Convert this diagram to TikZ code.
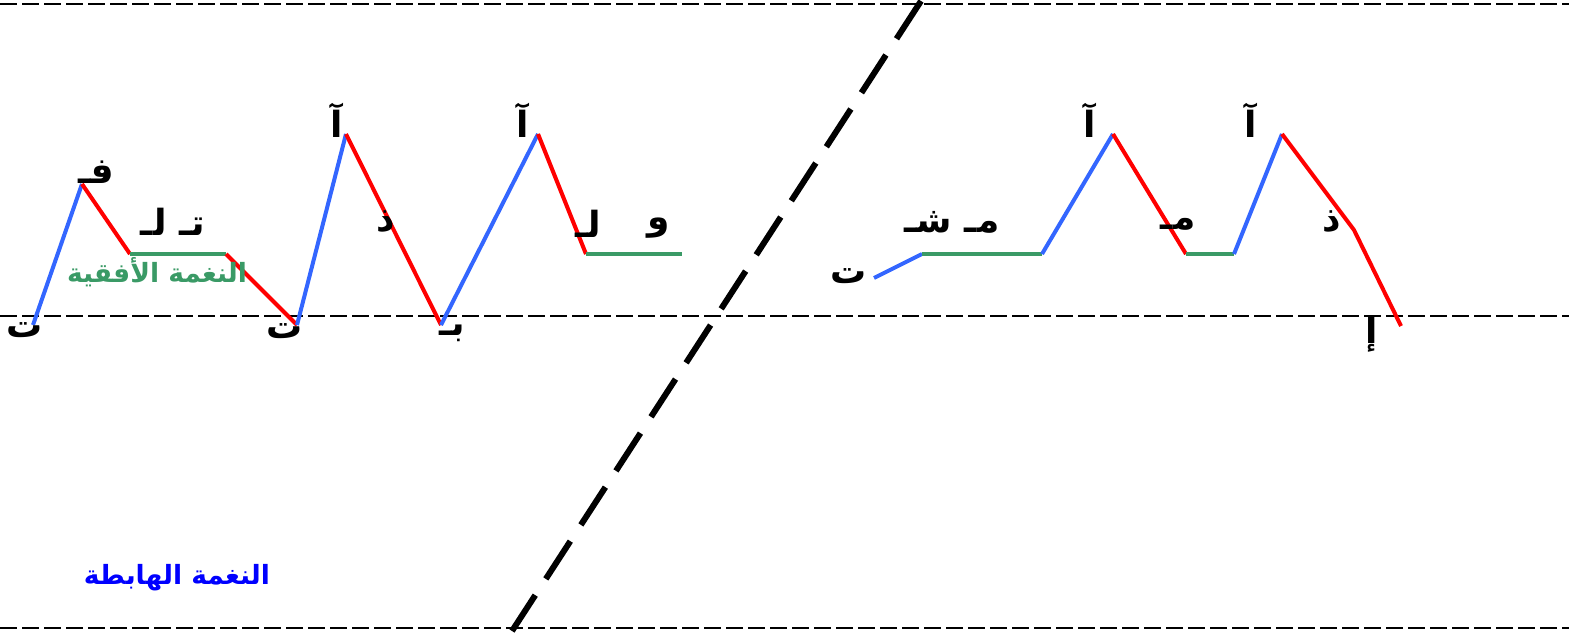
\documentclass[tikz,border=0pt]{standalone}
\usepackage{fontspec}
\TeXXeTstate=1
\newfontfamily\arabicfont[Script=Arabic]{DejaVu Sans}
\definecolor{tblue}{HTML}{3366FF}
\definecolor{tred}{HTML}{FF0000}
\definecolor{tgreen}{HTML}{3A9A66}
\definecolor{lblue}{HTML}{0000FF}
\tikzset{
  guide/.style={draw=black,line width=2pt,dash pattern=on 17pt off 5pt},
  divider/.style={draw=black,line width=6pt,dash pattern=on 45pt off 19.4pt},
  rise/.style={draw=tblue,line width=4pt},
  fall/.style={draw=tred,line width=4pt},
  level/.style={draw=tgreen,line width=4pt},
  lbl/.style={inner sep=0pt,font=\fontsize{36}{40}\selectfont\arabicfont\bfseries},
  captext/.style={inner sep=0pt,font=\fontsize{26.5}{30}\selectfont\arabicfont\bfseries},
}
\begin{document}
\begin{tikzpicture}[x=1pt,y=-1pt]
\useasboundingbox (0,0) rectangle (1569,633);
% guides
\coordinate (g1a) at (0,4);   \coordinate (g1b) at (1569,4);
\coordinate (g2a) at (0,316); \coordinate (g2b) at (1569,316);
\coordinate (g3a) at (0,628); \coordinate (g3b) at (1569,628);
\draw[guide] (g1a) -- (g1b);
\draw[guide] (g2a) -- (g2b);
\draw[guide] (g3a) -- (g3b);
\coordinate (da) at (921,1); \coordinate (db) at (512,631);
\draw[divider] (da) -- (db);
% left contour
\coordinate (p1) at (33,325);
\coordinate (p2) at (82,184);
\coordinate (p3) at (130,254);
\coordinate (p4) at (226,254);
\coordinate (p5) at (297,325);
\coordinate (p6) at (346,134);
\coordinate (p7) at (441,325);
\coordinate (p8) at (538,134);
\coordinate (p9) at (586,254);
\coordinate (p10) at (682,254);
\draw[rise] (p1) -- (p2);
\draw[fall] (p2) -- (p3);
\draw[level] (p3) -- (p4);
\draw[fall] (p4) -- (p5);
\draw[rise] (p5) -- (p6);
\draw[fall] (p6) -- (p7);
\draw[rise] (p7) -- (p8);
\draw[fall] (p8) -- (p9);
\draw[level] (p9) -- (p10);
% right contour
\coordinate (q1) at (874,278);
\coordinate (q2) at (922,254);
\coordinate (q3) at (1042,254);
\coordinate (q4) at (1113,134);
\coordinate (q5) at (1186,254);
\coordinate (q6) at (1234,254);
\coordinate (q7) at (1282,134);
\coordinate (q8) at (1354,230);
\coordinate (q9) at (1401,326);
\draw[rise] (q1) -- (q2);
\draw[level] (q2) -- (q3);
\draw[rise] (q3) -- (q4);
\draw[fall] (q4) -- (q5);
\draw[level] (q5) -- (q6);
\draw[rise] (q6) -- (q7);
\draw[fall,line join=round] (q7) -- (q8) -- (q9);
% labels
\node[lbl] (l1) at (25,330) {\beginR ت\endR};
\node[lbl] (l2) at (96,172) {\beginR فـ\endR};
\node[lbl] (l3) at (173,222) {\beginR تـ لـ\endR};
\node[captext,text=tgreen] (c1) at (157,272) {\beginR النغمة الأفقية\endR};
\node[lbl] (l4) at (285,331) {\beginR ت\endR};
\node[lbl] (l5) at (337,120) {\beginR آ\endR};
\node[lbl] (l6) at (386,222) {\beginR ذ\endR};
\node[lbl] (l7) at (452,333) {\beginR بـ\endR};
\node[lbl] (l8) at (523,120) {\beginR آ\endR};
\node[lbl] (l9) at (588,224) {\beginR لـ\endR};
\node[lbl] (l10) at (659,228) {\beginR و\endR};
\node[lbl] (l11) at (849,276) {\beginR ت\endR};
\node[lbl] (l12) at (952,222) {\beginR مـ شـ\endR};
\node[lbl] (l13) at (1090,120) {\beginR آ\endR};
\node[lbl] (l14) at (1178,224) {\beginR مـ\endR};
\node[lbl] (l15) at (1251,120) {\beginR آ\endR};
\node[lbl] (l16) at (1332,222) {\beginR ذ\endR};
\node[lbl] (l17) at (1372,334) {\beginR إ\endR};
\node[captext,text=lblue] (c2) at (177,578) {\beginR النغمة الهابطة\endR};
\end{tikzpicture}
\end{document}
